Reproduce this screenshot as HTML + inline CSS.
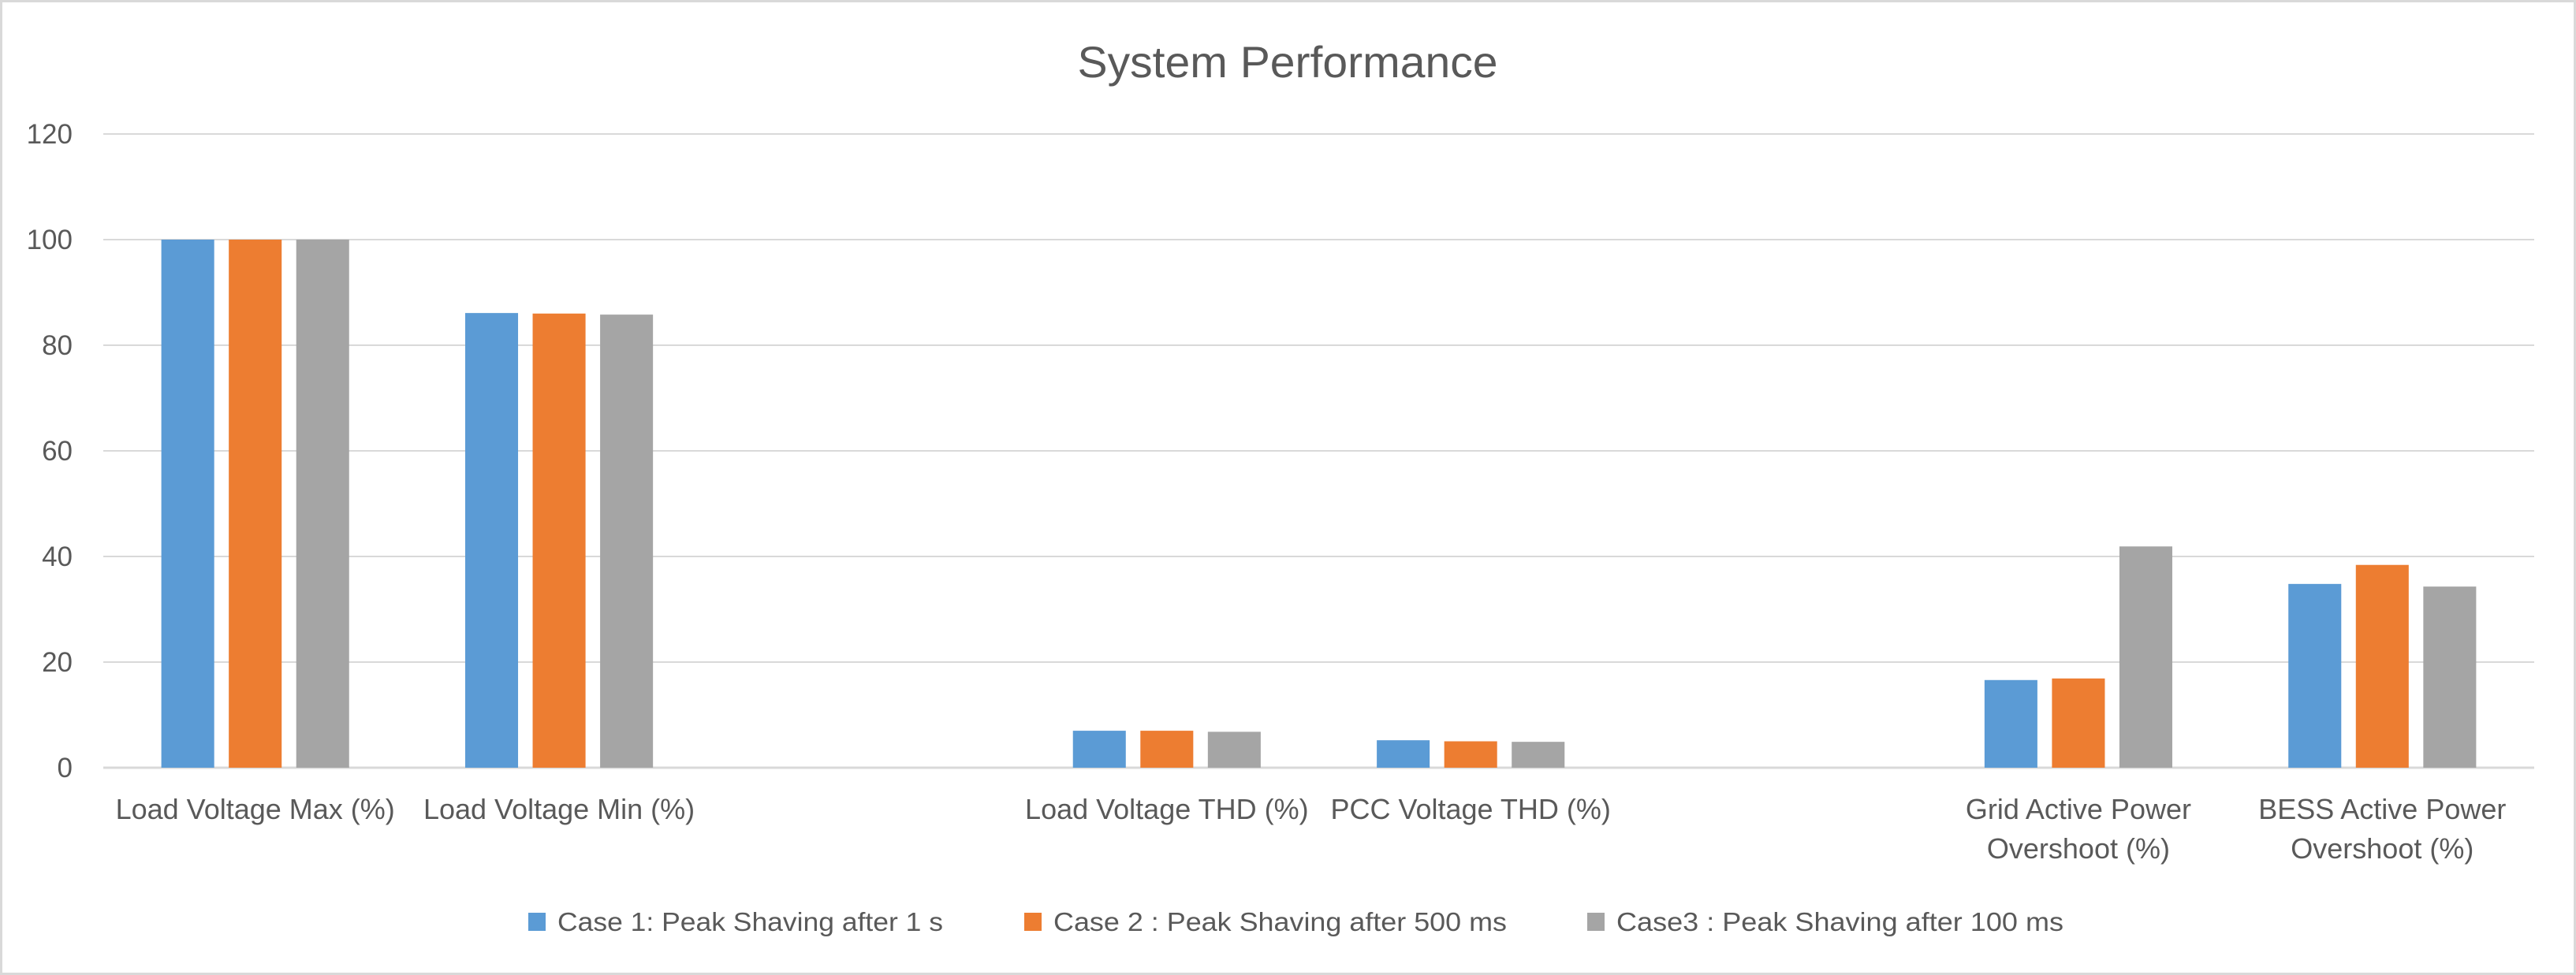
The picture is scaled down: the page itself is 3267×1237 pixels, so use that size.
<!DOCTYPE html>
<html><head><meta charset="utf-8"><style>
html,body{margin:0;padding:0;background:#fff;}
svg{display:block;font-family:"Liberation Sans",sans-serif;}
</style></head><body>
<svg id="chart" width="3267" height="1237" viewBox="0 0 3267 1237" xmlns="http://www.w3.org/2000/svg">
<rect x="1.5" y="1.5" width="3264" height="1234" fill="#fff" stroke="#d9d9d9" stroke-width="3"/>
<text x="1633" y="98" text-anchor="middle" font-size="56" fill="#595959" textLength="533" lengthAdjust="spacingAndGlyphs">System Performance</text>
<g id="grid"></g>
<g id="bars"></g>
<g id="xlabels"></g>
<g id="legend"></g>
</svg>
<script>
const categories = [
  ["Load Voltage Max (%)"],
  ["Load Voltage Min (%)"],
  [""],
  ["Load Voltage THD (%)"],
  ["PCC Voltage THD (%)"],
  [""],
  ["Grid Active  Power", "Overshoot (%)"],
  ["BESS Active Power", "Overshoot (%)"]
];
const seriesNames = ["Case 1: Peak Shaving after 1 s", "Case 2 : Peak Shaving after 500 ms", "Case3 : Peak Shaving after 100 ms"];
const case1 = [100, 86.1, null, 7.0, 5.2, null, 16.6, 34.8];
const case2 = [100, 86.0, null, 7.0, 5.0, null, 16.9, 38.4];
const case3 = [100, 85.8, null, 6.8, 4.9, null, 41.9, 34.3];
const yTicks = [0, 20, 40, 60, 80, 100, 120];

const colors = ["#5b9bd5", "#ed7d31", "#a5a5a5"];
const series = [case1, case2, case3];
const NS = "http://www.w3.org/2000/svg";
const plotL = 131, plotR = 3214, plotTop = 170, plotBot = 974;
const yMax = 120;
const y = v => plotBot - (v / yMax) * (plotBot - plotTop);
const slot = (plotR - plotL) / categories.length;
const xc = i => plotL + slot * (i + 0.5);
const barW = slot * 0.174, step = slot * 0.222;

function mk(tag, attrs, parent) {
  const e = document.createElementNS(NS, tag);
  for (const k in attrs) e.setAttribute(k, attrs[k]);
  parent.appendChild(e);
  return e;
}
const grid = document.getElementById('grid');
yTicks.forEach(t => {
  const ln = mk('line', {x1: plotL, x2: plotR, y1: y(t), y2: y(t), stroke: '#d9d9d9', 'stroke-width': t === 0 ? 3 : 2}, grid);
  
  
  const tx = mk('text', {x: 92, y: y(t) + 12, 'text-anchor': 'end', 'font-size': 35, fill: '#595959'}, grid);
  tx.textContent = t;
  
  
});
const bars = document.getElementById('bars');
series.forEach((s, si) => {
  s.forEach((v, ci) => {
    if (v == null) return;
    const cx = xc(ci) + (si - 1) * step;
    const r = mk('rect', {x: cx - barW / 2, y: y(v), width: barW, height: plotBot - y(v), fill: colors[si]}, bars);
    
    
  });
});
const xl = document.getElementById('xlabels');
categories.forEach((lines, ci) => {
  lines.forEach((txt, li) => {
    if (!txt) return;
    const t = mk('text', {x: xc(ci), y: 1039 + li * 50, 'text-anchor': 'middle', 'font-size': 36, fill: '#595959'}, xl);
    t.setAttribute('xml:space', 'preserve');
    t.textContent = txt;
    
    
  });
});
const lg = document.getElementById('legend');
const legX = [670, 1299, 2013], legW = [489, 575, 567];
seriesNames.forEach((n, i) => {
  const g = mk('g', {}, lg);
  
  
  const sw = mk('rect', {x: legX[i], y: 1158, width: 22, height: 23, fill: colors[i]}, g);
  
  
  const t = mk('text', {x: legX[i] + 37, y: 1181, 'font-size': 33, fill: '#595959', textLength: legW[i], lengthAdjust: 'spacingAndGlyphs'}, g);
  t.textContent = n;
  
  
});
</script>
</body></html>
